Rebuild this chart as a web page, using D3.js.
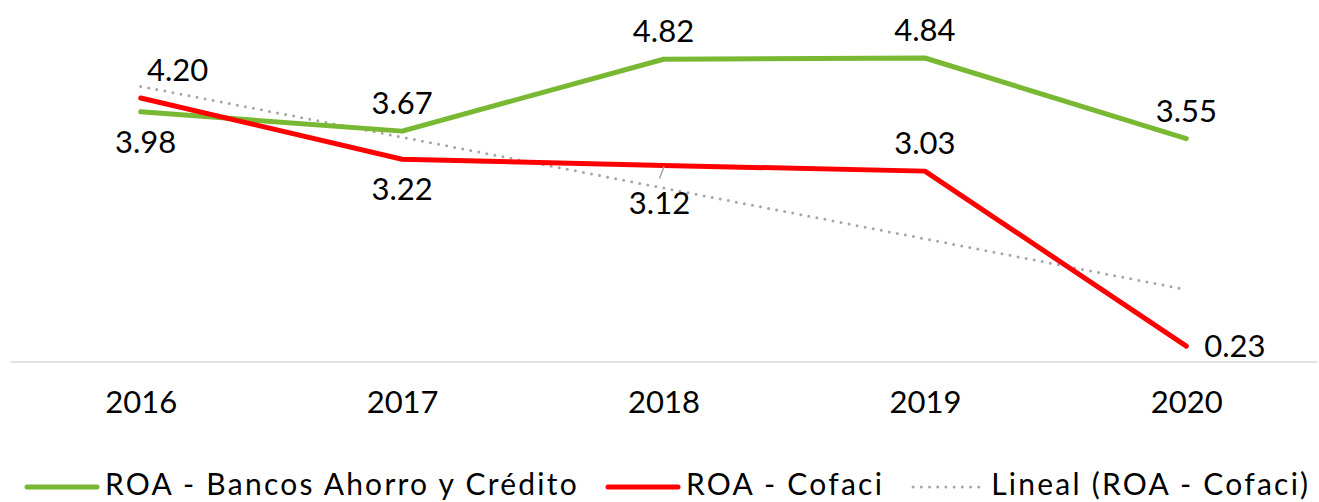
<!DOCTYPE html>
<html>
<head>
<meta charset="utf-8">
<script src="https://cdn.jsdelivr.net/npm/d3@7"></script>
<style>
  body { margin: 0; background: #fff; }
</style>
</head>
<body>
<div id="chart"></div>
<script>
// données
const years = ["2016", "2017", "2018", "2019", "2020"];
const roaBancos = [3.98, 3.67, 4.82, 4.84, 3.55];
const roaCofaci = [4.20, 3.22, 3.12, 3.03, 0.23];
const seriesNames = ["ROA - Bancos Ahorro y Crédito", "ROA - Cofaci", "Lineal (ROA - Cofaci)"];

// position des étiquettes par rapport au point
const labelPosBancos = ["below", "above", "above", "above", "above"];
const labelPosCofaci = ["above", "below", "below", "above", "right"];

function roaChart(htmlIdorClass) {
    const width = 1319;
    const height = 502;
    const font = "Lato, 'Open Sans', sans-serif";
    const green = "#79b833";
    const red = "#ff0000";
    const grey = "#a6a6a6";

    const x = d3.scalePoint()
        .domain(years)
        .range([10, 1317])
        .padding(0.5);

    const y = d3.scaleLinear()
        .domain([0, 5])
        .range([360.5, 48]);

    const svg = d3.select(htmlIdorClass).append("svg")
        .attr("width", width)
        .attr("height", height)
        .attr("viewBox", [0, 0, width, height])
        .attr("style", `font-family: ${font};`);

    // axe x
    const axis = svg.append("g")
        .attr("transform", "translate(0,361.5)")
        .call(d3.axisBottom(x).tickSize(0).tickSizeOuter(0).tickPadding(29));
    axis.select(".domain").attr("stroke", "#d9d9d9").attr("stroke-width", 1.5);
    axis.selectAll("text")
        .attr("fill", "#000")
        .attr("font-size", 31)
        .attr("font-family", font);

    // droite de tendance (moindres carrés sur ROA - Cofaci)
    const idx = roaCofaci.map((d, i) => i + 1);
    const mx = d3.mean(idx), my = d3.mean(roaCofaci);
    const slope = d3.sum(idx, (t, i) => (t - mx) * (roaCofaci[i] - my)) / d3.sum(idx, t => (t - mx) ** 2);
    const trend = idx.map(t => my + slope * (t - mx));

    const line = d3.line()
        .x((d, i) => x(years[i]))
        .y(d => y(d));

    svg.append("path")
        .attr("fill", "none")
        .attr("stroke", grey)
        .attr("stroke-width", 3)
        .attr("stroke-linecap", "round")
        .attr("stroke-dasharray", "0 8.2")
        .attr("d", d3.line().x((d, i) => x(years[i * 4])).y(d => y(d))([trend[0], trend[4]]));

    svg.append("path")
        .attr("fill", "none")
        .attr("stroke", green)
        .attr("stroke-width", 5)
        .attr("stroke-linecap", "round")
        .attr("stroke-linejoin", "round")
        .attr("d", line(roaBancos));

    svg.append("path")
        .attr("fill", "none")
        .attr("stroke", red)
        .attr("stroke-width", 5)
        .attr("stroke-linecap", "round")
        .attr("stroke-linejoin", "round")
        .attr("d", line(roaCofaci));

    // petits décalages manuels comme dans l'original
    const nudge = {
        "b0": [5, 0],
        "c0": [37, 0],
        "c2": [-4, 7]
    };

    function labels(values, pos, key) {
        values.forEach((v, i) => {
            const px = x(years[i]), py = y(v);
            let dx = 0, dy = 0, anchor = "middle";
            if (pos[i] === "above") dy = -17;
            if (pos[i] === "below") dy = 41;
            if (pos[i] === "right") { dx = 18; dy = 11; anchor = "start"; }
            const n = nudge[key + i] || [0, 0];
            svg.append("text")
                .attr("x", px + dx + n[0])
                .attr("y", py + dy + n[1])
                .attr("text-anchor", anchor)
                .attr("font-size", 31)
                .attr("fill", "#000")
                .text(v.toFixed(2));
        });
    }
    labels(roaBancos, labelPosBancos, "b");
    labels(roaCofaci, labelPosCofaci, "c");

    // ligne de rappel pour 3.12
    svg.append("line")
        .attr("x1", x(years[2]) + 0.5)
        .attr("y1", y(roaCofaci[2]) + 1)
        .attr("x2", x(years[2]) - 4)
        .attr("y2", y(roaCofaci[2]) + 13)
        .attr("stroke", grey)
        .attr("stroke-width", 1.5);

    // légende
    const legendStyles = [
        { color: green, dash: null, width: 5 },
        { color: red, dash: null, width: 5 },
        { color: grey, dash: "0 8.2", width: 3 }
    ];
    let lx = 27;
    seriesNames.forEach((name, i) => {
        const st = legendStyles[i];
        svg.append("line")
            .attr("x1", lx).attr("x2", lx + 70)
            .attr("y1", 487).attr("y2", 487)
            .attr("stroke", st.color)
            .attr("stroke-width", st.width)
            .attr("stroke-linecap", "round")
            .attr("stroke-dasharray", st.dash);
        const t = svg.append("text")
            .attr("x", lx + 78)
            .attr("y", 495)
            .attr("font-size", 30)
            .attr("letter-spacing", "2.25px")
            .attr("fill", "#000")
            .text(name);
        lx += 78 + t.node().getComputedTextLength() + 29;
    });
}

roaChart("#chart");
</script>
</body>
</html>
